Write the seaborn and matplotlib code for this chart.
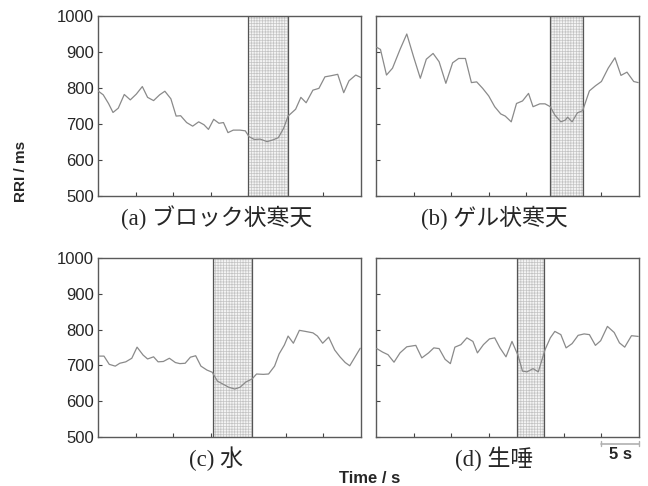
"""RRI traces for four swallowing conditions, 2x2 panels."""
import matplotlib
matplotlib.use('Agg')
import matplotlib.pyplot as plt
import matplotlib.transforms as mtransforms
import seaborn as sns

# time (s) and RRI (ms)
t_a = [0.0, 0.7, 1.4, 2.0, 2.7, 3.5, 4.3, 5.1, 5.9, 6.6, 7.4, 8.2, 8.9, 9.7,
       10.4, 11.0, 11.8, 12.6, 13.4, 14.1, 14.7, 15.4, 16.1, 16.7, 17.3, 18.0,
       18.9, 19.6, 20.1, 20.8, 21.6, 22.5, 23.3, 24.0, 24.7, 25.3, 26.3, 27.0,
       27.7, 28.6, 29.4, 30.2, 31.0, 31.9, 32.7, 33.4, 34.3, 35.0]
rri_a = [792, 781, 757, 732, 744, 782, 767, 783, 804, 774, 765, 781, 791, 770,
         722, 723, 704, 694, 706, 698, 685, 713, 702, 704, 676, 683,
         683, 681, 665, 657, 658, 651, 656, 662, 688, 722, 741, 774,
         759, 794, 799, 831, 834, 838, 787, 820, 836, 829]

t_b = [0.1, 0.6, 1.4, 2.2, 3.2, 4.1, 5.0, 5.9, 6.7, 7.6, 8.4, 9.3, 10.2, 11.0,
       11.9, 12.7, 13.4, 14.2, 15.0, 15.8, 16.6, 17.2, 18.0, 18.7, 19.5, 20.3,
       20.9, 21.8, 22.5, 23.2, 23.8, 24.6, 25.2, 25.5, 26.1, 26.8, 27.5, 28.4,
       29.2, 30.0, 30.9, 31.8, 32.6, 33.4, 34.3, 34.9]
rri_b = [913, 907, 836, 855, 907, 950, 887, 827, 880, 896, 873, 813, 870, 882,
         882, 815, 817, 799, 778, 748, 728, 722, 706, 757, 764, 785,
         748, 756, 756, 748, 725, 706, 711, 719, 706, 731, 737, 792,
         806, 818, 855, 884, 835, 844, 818, 815]

t_c = [0.2, 0.8, 1.5, 2.3, 2.9, 3.7, 4.5, 5.2, 6.0, 6.6, 7.4, 8.0, 8.7, 9.5,
       10.3, 10.9, 11.6, 12.3, 13.0, 13.7, 14.5, 15.2, 15.9, 16.7, 17.4, 18.2,
       18.9, 19.7, 20.5, 21.1, 22.0, 22.7, 23.5, 24.1, 24.8, 25.3, 26.0, 26.8,
       27.6, 28.6, 29.2, 29.9, 30.7, 31.5, 32.2, 32.9, 33.5, 34.9]
rri_c = [726, 726, 703, 698, 706, 710, 720, 751, 729, 718, 724, 710, 711, 720,
         708, 705, 706, 723, 727, 698, 687, 681, 656, 647, 639, 634,
         639, 654, 662, 676, 675, 676, 698, 732, 757, 782, 762, 798,
         795, 791, 782, 762, 779, 743, 724, 708, 699, 748]

t_d = [0.1, 0.9, 1.6, 2.4, 3.2, 4.1, 5.3, 6.1, 7.0, 7.7, 8.4, 9.2, 9.9, 10.5,
       11.3, 12.1, 12.9, 13.5, 14.3, 15.1, 15.8, 16.5, 17.3, 18.1, 18.9, 19.5,
       20.1, 20.9, 21.6, 22.5, 23.2, 23.8, 24.6, 25.3, 26.1, 26.9, 27.7, 28.4,
       29.2, 29.9, 30.8, 31.7, 32.4, 33.1, 34.0, 34.9]
rri_d = [747, 737, 730, 709, 735, 752, 756, 721, 735, 749, 747, 717, 705, 751,
         758, 777, 767, 735, 758, 774, 777, 749, 724, 767, 728, 684,
         682, 691, 682, 744, 777, 795, 786, 749, 761, 784, 788, 786,
         756, 769, 809, 792, 763, 751, 783, 781]

# swallowing intervals (s)
shade_a = (20.0, 25.3)
shade_b = (23.2, 27.5)
shade_c = (15.3, 20.5)
shade_d = (18.8, 22.4)

titles = ['(a) ブロック状寒天', '(b) ゲル状寒天', '(c) 水', '(d) 生唾']
y_ticks = [500, 600, 700, 800, 900, 1000]
x_ticks = [5, 10, 15, 20, 25, 30]
scale_len = 5

sns.set_style('white')
plt.rcParams['font.family'] = ['Liberation Sans', 'DejaVu Sans']
plt.rcParams['hatch.linewidth'] = 0.5

fig = plt.figure(figsize=(6.48, 4.86), dpi=100)
boxes = [
    [0.1512, 0.5967, 0.4059, 0.3704],
    [0.5802, 0.5967, 0.4059, 0.3704],
    [0.1512, 0.1008, 0.4059, 0.3683],
    [0.5802, 0.1008, 0.4059, 0.3683],
]
series = [(t_a, rri_a, shade_a), (t_b, rri_b, shade_b),
          (t_c, rri_c, shade_c), (t_d, rri_d, shade_d)]

axes = []
for i, (box, (t, rri, shade)) in enumerate(zip(boxes, series)):
    ax = fig.add_axes(box)
    axes.append(ax)

    # hatched swallowing window with dark borders
    ax.axvspan(shade[0], shade[1], facecolor='#f4f4f4', edgecolor='#c4c4c4',
               hatch='++++++', lw=0, zorder=1)
    for x in shade:
        ax.axvline(x, color='#555555', lw=0.9, zorder=2)

    sns.lineplot(x=t, y=rri, ax=ax, color='#8a8a8a', lw=0.9,
                 estimator=None, zorder=3)

    ax.set_xlim(0, 35)
    ax.set_ylim(500, 1000)
    ax.set_xticks(x_ticks)
    ax.set_yticks(y_ticks)
    ax.set_xticklabels([])
    if i % 2 == 0:
        ax.set_yticklabels([str(v) for v in y_ticks])
    else:
        ax.set_yticklabels([])
    ax.tick_params(direction='in', length=3, width=0.8, color='#444444',
                   labelsize=12, pad=3, left=True, bottom=True)
    ax.set_xlabel('')
    ax.set_ylabel('')
    for sp in ax.spines.values():
        sp.set_visible(True)
        sp.set_color('#5a5a5a')
        sp.set_linewidth(1.0)

    ax.text(0.45, -0.12, titles[i], transform=ax.transAxes, ha='center',
            va='center', fontsize=16.5,
            family=['Liberation Serif', 'Noto Sans CJK JP'])

# 5 s scale bar under panel (d)
ax = axes[3]
trans = mtransforms.blended_transform_factory(ax.transData, ax.transAxes)
x1 = ax.get_xlim()[1]
ax.plot([x1 - scale_len, x1], [-0.037, -0.037], color='#b0b0b0', lw=1.2,
        transform=trans, clip_on=False)
for x in (x1 - scale_len, x1):
    ax.plot([x, x], [-0.05, -0.024], color='#b0b0b0', lw=1.0,
            transform=trans, clip_on=False)
ax.text(x1 - scale_len / 2, -0.1, f'{scale_len} s', transform=trans,
        ha='center', va='center', fontsize=12, fontweight='bold')

fig.text(21 / 648, 1 - 171 / 486, 'RRI / ms', rotation=90, ha='center',
         va='center', fontsize=11, fontweight='bold')
fig.text(370 / 648, 1 - 478 / 486, 'Time / s', ha='center', va='center',
         fontsize=12, fontweight='bold')

fig.savefig('out.png', dpi=100)
